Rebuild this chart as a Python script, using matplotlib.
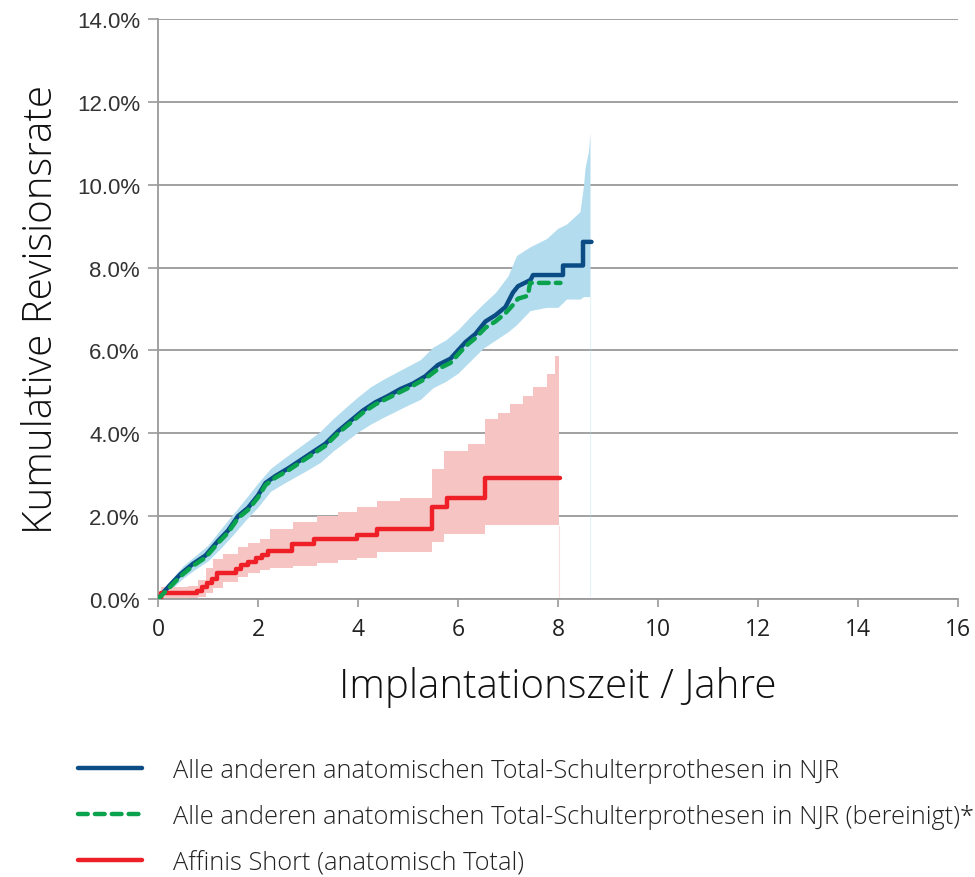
import numpy as np
import matplotlib.pyplot as plt
from matplotlib.ticker import FuncFormatter

# Kaplan-Meier style curves, values in percent, time in years
njr_t = [0, 0.1, 0.25, 0.45, 0.7, 0.95, 1.2, 1.4, 1.6, 1.8, 2.0, 2.15, 2.35, 2.6,
         2.85, 3.1, 3.35, 3.6, 3.85, 4.1, 4.35, 4.6, 4.85, 5.1, 5.35, 5.6, 5.85,
         6.0, 6.15, 6.35, 6.55, 6.75, 6.95, 7.1, 7.2, 7.45, 7.5, 8.1, 8.1, 8.5,
         8.5, 8.67]
njr_y = [0, 0.15, 0.35, 0.6, 0.85, 1.05, 1.4, 1.65, 2.0, 2.2, 2.5, 2.8, 2.97, 3.15,
         3.35, 3.55, 3.75, 4.05, 4.3, 4.55, 4.75, 4.9, 5.07, 5.2, 5.38, 5.65, 5.8,
         6.0, 6.2, 6.4, 6.7, 6.85, 7.05, 7.4, 7.55, 7.7, 7.82, 7.82, 8.05, 8.05,
         8.62, 8.62]

adj_t = [0, 0.1, 0.25, 0.45, 0.7, 0.95, 1.2, 1.4, 1.6, 1.8, 2.0, 2.15, 2.35, 2.6,
         2.85, 3.1, 3.35, 3.6, 3.85, 4.1, 4.35, 4.6, 4.85, 5.1, 5.35, 5.6, 5.85,
         6.0, 6.15, 6.35, 6.55, 6.75, 6.95, 7.1, 7.2, 7.4, 7.44, 8.05]
adj_y = [0, 0.12, 0.3, 0.55, 0.8, 1.0, 1.35, 1.6, 1.95, 2.15, 2.45, 2.75, 2.93, 3.1,
         3.3, 3.5, 3.7, 4.0, 4.25, 4.5, 4.7, 4.85, 5.0, 5.15, 5.32, 5.55, 5.7,
         5.9, 6.1, 6.3, 6.55, 6.7, 6.9, 7.1, 7.25, 7.32, 7.63, 7.63]

# confidence band for NJR curve
njr_ci_t = [0, 0.25, 0.5, 0.75, 1.0, 1.25, 1.5, 1.75, 2.0, 2.25, 2.5, 2.75, 3.0,
            3.25, 3.5, 3.75, 4.0, 4.25, 4.5, 4.75, 5.0, 5.25, 5.5, 5.75, 6.0,
            6.25, 6.5, 6.75, 7.0, 7.17, 7.44, 7.77, 8.0, 8.17, 8.44, 8.51, 8.54,
            8.61, 8.64]
njr_hi = [0, 0.45, 0.8, 1.05, 1.3, 1.68, 2.05, 2.42, 2.8, 3.15, 3.38, 3.6, 3.82,
          4.05, 4.35, 4.62, 4.88, 5.12, 5.3, 5.46, 5.62, 5.78, 6.08, 6.25, 6.5,
          6.82, 7.12, 7.4, 7.8, 8.29, 8.5, 8.7, 8.95, 9.05, 9.35, 9.98, 10.4,
          10.8, 11.27]
njr_lo = [0, 0.22, 0.5, 0.72, 0.92, 1.22, 1.55, 1.9, 2.22, 2.6, 2.78, 2.95, 3.12,
          3.3, 3.57, 3.8, 4.03, 4.22, 4.38, 4.53, 4.68, 4.82, 5.1, 5.25, 5.45,
          5.75, 6.05, 6.25, 6.45, 6.62, 6.96, 7.04, 7.04, 7.24, 7.24, 7.3, 7.3,
          7.3, 7.3]

# Affinis Short (steps)
aff_t = [0, 0.05, 0.78, 0.88, 0.98, 1.08, 1.17, 1.56, 1.66, 1.8, 1.95, 2.07, 2.2,
         2.68, 3.12, 3.97, 4.37, 5.47, 5.77, 6.54, 8.04]
aff_y = [0, 0.15, 0.2, 0.28, 0.38, 0.48, 0.63, 0.72, 0.82, 0.9, 0.98, 1.06, 1.17,
         1.33, 1.45, 1.54, 1.7, 2.21, 2.45, 2.92, 2.92]

aff_ci_t = [0, 0.05, 0.6, 0.8, 0.95, 1.1, 1.3, 1.6, 1.8, 2.04, 2.24, 2.7, 3.17, 3.6,
            3.97, 4.37, 4.84, 5.47, 5.71, 6.2, 6.54, 6.8, 7.04, 7.3, 7.5, 7.77,
            7.94, 8.01]
aff_hi = [0.05, 0.3, 0.32, 0.45, 0.75, 0.97, 1.09, 1.25, 1.35, 1.45, 1.69, 1.85, 2.01,
          2.1, 2.21, 2.37, 2.45, 3.15, 3.58, 3.75, 4.34, 4.5, 4.7, 4.9, 5.11, 5.43,
          5.87, 6.11]
aff_lo = [0, 0, 0.02, 0.06, 0.14, 0.26, 0.4, 0.52, 0.62, 0.7, 0.75, 0.8, 0.88, 0.95,
          1.0, 1.13, 1.13, 1.38, 1.57, 1.57, 1.79, 1.79, 1.79, 1.79, 1.79, 1.79,
          1.79, 1.79]

lab_njr = "Alle anderen anatomischen Total-Schulterprothesen in NJR"
lab_adj = "Alle anderen anatomischen Total-Schulterprothesen in NJR (bereinigt)*"
lab_aff = "Affinis Short (anatomisch Total)"

c_blue = "#0b4c84"
c_green = "#0aa24c"
c_red = "#ee1f26"
c_blueband = "#b3dcee"
c_redband = "#f7c4c4"

plt.rcParams['font.family'] = ['Open Sans', 'DejaVu Sans']

fig = plt.figure(figsize=(9.75, 8.78), dpi=100)
ax = fig.add_axes([158/975, 1 - 600/878, 800/975, 580/878])

ax.fill_between(njr_ci_t, njr_lo, njr_hi, color=c_blueband, lw=0, zorder=1)
ax.fill_between(aff_ci_t, aff_lo, aff_hi, step='post', color=c_redband, lw=0, zorder=1)
ax.vlines(njr_ci_t[-1], 0, njr_lo[-1], color=c_blueband, lw=0.8, alpha=0.35, zorder=1)
ax.vlines(aff_ci_t[-1], 0, aff_lo[-1], color=c_redband, lw=0.8, alpha=0.5, zorder=1)

ax.plot(njr_t, njr_y, color=c_blue, lw=3.2, solid_capstyle='round', zorder=3, label=lab_njr)
ax.plot(adj_t, adj_y, color=c_green, lw=3.2, ls=(0, (2.2, 1.6)), dash_capstyle='round',
        zorder=4, label=lab_adj)
ax.plot(aff_t, aff_y, color=c_red, lw=3.2, drawstyle='steps-post', solid_capstyle='round',
        zorder=3, label=lab_aff)

ax.set_xlim(0, 16)
ax.set_ylim(0, 14)
ax.set_xticks(np.arange(0, 17, 2))
ax.set_yticks(np.arange(0, 15, 2))
ax.yaxis.set_major_formatter(FuncFormatter(lambda v, p: f"{v:.1f}%"))
ax.grid(axis='y', color='#9a9a9a', lw=1.3, zorder=0)
ax.set_axisbelow(True)
for s in ['top', 'right']:
    ax.spines[s].set_visible(False)
for s in ['left', 'bottom']:
    ax.spines[s].set_color('#9a9a9a')
    ax.spines[s].set_linewidth(1.3)
ax.tick_params(axis='both', color='#9a9a9a', width=1.2, length=6)
ax.tick_params(axis='x', labelcolor='#222222', pad=7)
ax.tick_params(axis='y', labelcolor='#333333', pad=6, length=7)
for t in ax.get_yticklabels():
    t.set_fontfamily('Liberation Sans')
    t.set_fontsize(16)
for t in ax.get_xticklabels():
    t.set_fontfamily(['Liberation Sans Narrow', 'Open Sans'])
    t.set_fontsize(16.5)

ax.set_xlabel("Implantationszeit / Jahre", fontsize=29, fontweight='light',
              color='#111111', labelpad=18)
ax.set_ylabel("Kumulative Revisionsrate", fontsize=29, fontweight='light',
              color='#111111', labelpad=11)

leg = ax.legend(loc='upper left', bbox_to_anchor=(78/975, 1 - 759/878),
                bbox_transform=fig.transFigure, frameon=False,
                prop={'size': 18.3, 'weight': 'light'},
                handlelength=2.5, handletextpad=1.25, labelspacing=0.83,
                borderpad=0, borderaxespad=0, labelcolor='#222222')

fig.savefig("out.png", dpi=100)
